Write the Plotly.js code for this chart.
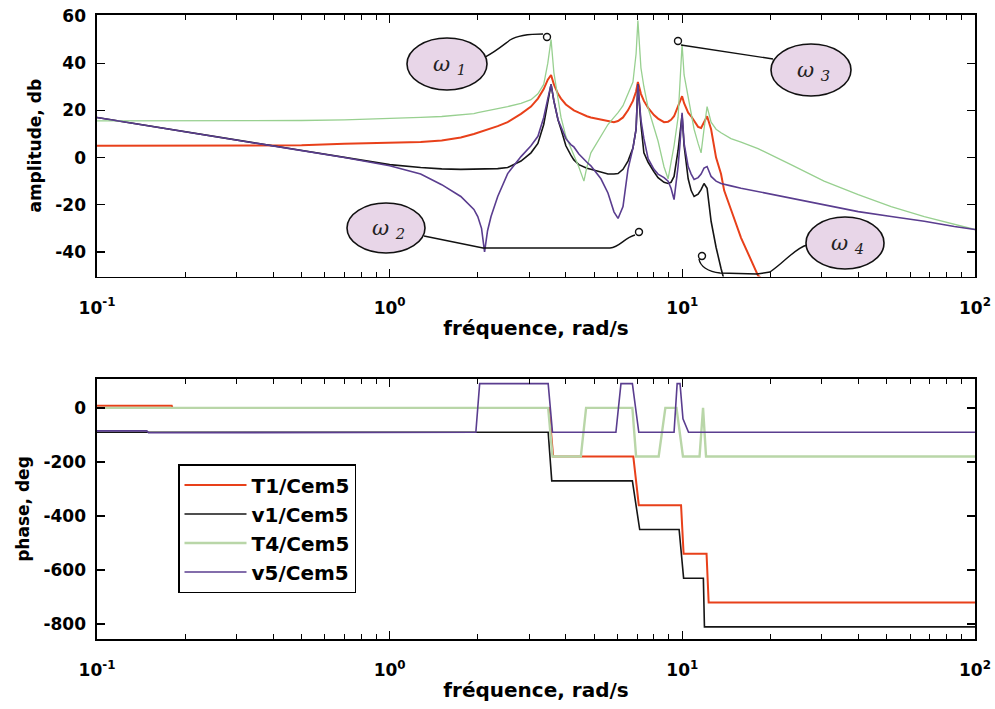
<!DOCTYPE html>
<html>
<head>
<meta charset="utf-8">
<script src="https://cdn.plot.ly/plotly-3.0.1.min.js"></script>
<style>html,body{margin:0;padding:0;background:#fff;}#chart{width:995px;height:709px;}</style>
</head>
<body>
<div id="chart"></div>
<script>
// ---------- DATA ----------
const seriesNames = ['T1/Cem5', 'v1/Cem5', 'T4/Cem5', 'v5/Cem5'];

// amplitude (dB) sampled at these frequencies (rad/s)
const ampFreq = [0.1, 0.2, 0.3, 0.5, 0.7, 1.0, 1.276, 1.506, 1.75, 1.94, 2.0, 2.06, 2.11, 2.16, 2.22, 2.34, 2.53, 2.81, 3.04, 3.21,
  3.36, 3.47, 3.56, 3.64, 3.76, 3.85, 4.0, 4.16, 4.26, 4.43, 4.61, 4.72, 4.87, 5.27, 5.57, 5.84, 6.03, 6.27, 6.52, 6.78,
  6.95, 7.05, 7.22, 7.39, 7.64, 8.0, 8.26, 8.66, 8.94, 9.15, 9.37, 9.67, 9.82, 9.98, 10.14, 10.47, 10.72, 10.97, 11.32, 11.59,
  11.86, 12.15, 12.54, 13.04, 13.56, 13.9, 14.66, 15.87, 18.14, 23.5, 30.5, 39.9, 51.7, 67.1, 85, 100];

const ampT1 = [5, 5, 5, 5.2, 5.8, 6.2, 6.6, 7.2, 8.5, 10, 10.5, 11, 11.4, 11.8, 12.3, 13.3, 15, 18.5, 21.6, 25,
  29, 33, 35, 31, 27, 25, 22.5, 21, 20, 19, 18, 17.5, 17, 16, 15.3, 15, 15.5, 17, 20, 24,
  28, 32, 27, 24, 21, 18, 16.5, 15, 15.2, 16, 17.5, 21.6, 24, 26, 23, 19, 17.5, 15.5, 13, 12.5,
  15, 17.5, 12, 0, -7, -14, -22, -34, -50, -62, -72, -80, -88, -95, -100, -103];

const ampV1 = [17, 11, 7.5, 3, 0.3, -3, -4.2, -4.8, -5, -5, -5, -5, -5, -5, -4.9, -4.7, -4.2, -1.5, 2, 6,
  14, 24, 31, 24, 16, 12, 5, 1, -1, -3, -4, -4.5, -5, -6.3, -7, -7, -6.8, -5, -1.5, 4,
  12, 31, 14, 2, -2, -6, -8.5, -10.5, -11, -10.5, -8, 3, 10, 18, 5, -9, -14, -16.5, -15.5, -13.6,
  -11, -13, -27, -38, -47, -52, -58, -63, -70, -80, -88, -95, -100, -107, -112, -115];

const ampT4 = [15.5, 15.5, 15.5, 15.7, 16, 16.5, 17, 17.4, 18, 18.6, 19, 19.3, 19.6, 19.9, 20.2, 20.8, 21.6, 23, 24.5, 27,
  31, 40, 50, 36, 24, 17, 9, 4, 1, -4, -10, -4, 2, 9, 14, 17, 19, 22, 27, 32,
  44, 58, 38, 30, 21, 13, 7, -4, -9, -2, 5, 17, 30, 48, 35, 26, 18, 12, 6, 2,
  12, 21.6, 15, 12, 10.5, 9.7, 8, 6.5, 3.8, -3, -10, -15.7, -20.8, -25, -28.4, -30.5];

const ampV5 = [17, 11, 7.5, 3, 0, -3.5, -7, -11.5, -16.5, -22, -25, -30, -40, -31, -25, -16.5, -6.8, 0.4, 5, 9,
  17, 25, 31, 24, 16, 13, 8, 5.5, 4.5, 1.5, -1, -2, -3.5, -9, -15, -23, -25.8, -20.8, -5, 4,
  12, 31, 16, 8, -0.5, -5, -7, -8.5, -10, -13, -17.8, -3.8, 6, 19, 6, -3.8, -7, -9.3, -8.5, -7,
  -4.5, -3.8, -8, -10, -11, -11.4, -12, -13, -14.4, -17.4, -19.9, -22.9, -25, -27, -29.2, -30.5];

// phase (deg)
const phT1Freq = [0.1, 0.18, 0.181, 3.5, 3.62, 6.8, 7.1, 9.9, 10.1, 12.1, 12.3, 100];
const phT1     = [8, 8, 0, 0, -180, -180, -360, -360, -540, -540, -720, -720];

const phV1Freq = [0.1, 3.48, 3.58, 6.75, 7.15, 9.75, 10.1, 11.8, 11.9, 100];
const phV1     = [-90, -90, -270, -270, -450, -450, -630, -630, -810, -810];

const phT4Freq = [0.1, 3.48, 3.6, 4.5, 4.69, 6.75, 6.95, 8.3, 8.75, 9.55, 10.05, 11.45, 11.77, 12.05, 100];
const phT4     = [0, 0, -180, -180, 0, 0, -180, -180, 0, 0, -180, -180, 0, -180, -180];

const phV5Freq = [0.1, 0.148, 0.15, 1.97, 2.03, 3.48, 3.6, 5.93, 6.17, 6.75, 7.1, 9.37, 9.6, 9.82, 10.05, 10.5, 100];
const phV5     = [-85, -85, -92, -90, 90, 90, -90, -90, 90, 90, -90, -90, 90, 90, -40, -90, -90];

// axis tick labels
const xTickVals = [0.1, 1, 10, 100];
const xTickText = ['10<sup>-1</sup>', '10<sup>0</sup>', '10<sup>1</sup>', '10<sup>2</sup>'];
const ampTickVals = [-40, -20, 0, 20, 40, 60];
const ampTickText = ['-40', '-20', '0', '20', '40', '60'];
const phTickVals = [-800, -600, -400, -200, 0];
const phTickText = ['-800', '-600', '-400', '-200', '0'];

// ---------- STYLE ----------
const ampColors = ['#e8401a', '#151515', '#98d090', '#5a3d8f'];
const phColors  = ['#e8401a', '#151515', '#b9d6a8', '#5a3d8f'];
const ampWidths = [2, 1.6, 1.3, 1.6];
const phWidths  = [2, 1.6, 2.4, 1.6];
const FONT = 'DejaVu Sans, Arial, sans-serif';

const minorVals = [];
for (let d = -1; d < 2; d++) for (let k = 2; k <= 9; k++) minorVals.push(k * Math.pow(10, d));

const ampY = [ampT1, ampV1, ampT4, ampV5];
const phX = [phT1Freq, phV1Freq, phT4Freq, phV5Freq];
const phY = [phT1, phV1, phT4, phV5];

const traces = [];
for (let i = 0; i < 4; i++) {
  traces.push({x: ampFreq, y: ampY[i], xaxis: 'x', yaxis: 'y', type: 'scatter', mode: 'lines',
    name: seriesNames[i], showlegend: false, line: {color: ampColors[i], width: ampWidths[i]}});
}
for (let i = 0; i < 4; i++) {
  traces.push({x: phX[i], y: phY[i], xaxis: 'x2', yaxis: 'y2', type: 'scatter', mode: 'lines',
    name: seriesNames[i], showlegend: true, line: {color: phColors[i], width: phWidths[i]}});
}

// pixel -> paper helpers (plot area 97..975 x 15..639)
const L = 97, R = 975, T = 15, B = 639;
const px = v => (v - L) / (R - L);
const py = v => 1 - (v - T) / (B - T);
function path(cmds) {
  return cmds.map(c => c[0] + ' ' + c.slice(1).map((v, j) => (j % 2 === 0 ? px(v) : py(v)).toFixed(5)).join(',')).join(' ');
}

function xAxis(anchor) {
  return {type: 'log', range: [-1, 2], anchor: anchor, tickmode: 'array', tickvals: xTickVals, ticktext: xTickText,
    ticks: 'inside', ticklen: 8, tickwidth: 1.3, tickcolor: '#000', mirror: 'allticks', showline: true, linecolor: '#000',
    linewidth: 1.6, showgrid: false, zeroline: false, ticklabelstandoff: 15,
    tickfont: {family: FONT, size: 17, color: '#000', weight: 'bold'},
    minor: {tickmode: 'array', tickvals: minorVals, ticks: 'inside', ticklen: 5, tickwidth: 1, tickcolor: '#000', showgrid: false},
    title: {text: 'fréquence, rad/s', font: {family: FONT, size: 20, color: '#000', weight: 'bold'}, standoff: 4}};
}
function yAxis(anchor, range, domain, vals, text, title) {
  return {range: range, domain: domain, anchor: anchor, tickmode: 'array', tickvals: vals, ticktext: text,
    ticks: 'inside', ticklen: 8, tickwidth: 1.3, tickcolor: '#000', mirror: 'allticks', showline: true, linecolor: '#000',
    linewidth: 1.6, showgrid: false, zeroline: false, ticklabelstandoff: 6,
    tickfont: {family: FONT, size: 17, color: '#000', weight: 'bold'},
    title: {text: title, font: {family: FONT, size: 17, color: '#000', weight: 'bold'}, standoff: 9}};
}

const ellipses = [
  {cx: 447, cy: 64, rx: 40, ry: 26, label: '1'},
  {cx: 386, cy: 228, rx: 39, ry: 25, label: '2'},
  {cx: 811, cy: 70, rx: 40, ry: 26, label: '3'},
  {cx: 845, cy: 243, rx: 39, ry: 26, label: '4'}
];
const shapes = [];
const annotations = [];
const lineStyle = {color: '#111', width: 1.4};
// connectors
shapes.push({type: 'path', xref: 'paper', yref: 'paper', line: lineStyle,
  path: path([['M', 485, 57], ['C', 495, 52, 502, 46, 510, 40], ['C', 518, 35, 530, 34, 543, 34]])});
shapes.push({type: 'path', xref: 'paper', yref: 'paper', line: lineStyle,
  path: path([['M', 424, 236], ['L', 483, 248], ['L', 610, 248], ['C', 620, 247, 624, 238, 635, 235]])});
shapes.push({type: 'path', xref: 'paper', yref: 'paper', line: lineStyle,
  path: path([['M', 773, 59], ['L', 681, 45]])});
shapes.push({type: 'path', xref: 'paper', yref: 'paper', line: lineStyle,
  path: path([['M', 807, 245], ['C', 795, 248, 785, 262, 770, 272], ['L', 757, 274]])});
shapes.push({type: 'path', xref: 'paper', yref: 'paper', line: lineStyle,
  path: path([['M', 757, 274], ['L', 720, 273], ['C', 708, 272, 700, 266, 699, 259]])});
// small loops
[[547, 37], [639, 232], [678, 41], [702, 256]].forEach(p => {
  shapes.push({type: 'circle', xref: 'paper', yref: 'paper', line: lineStyle, fillcolor: 'rgba(0,0,0,0)',
    x0: px(p[0] - 3.5), x1: px(p[0] + 3.5), y0: py(p[1] + 3.5), y1: py(p[1] - 3.5)});
});
ellipses.forEach(e => {
  shapes.push({type: 'circle', xref: 'paper', yref: 'paper', line: {color: '#111', width: 1.6}, fillcolor: '#e8d6e8',
    x0: px(e.cx - e.rx), x1: px(e.cx + e.rx), y0: py(e.cy + e.ry), y1: py(e.cy - e.ry)});
  annotations.push({xref: 'paper', yref: 'paper', x: px(e.cx + 2), y: py(e.cy + 1), xanchor: 'center', yanchor: 'middle',
    showarrow: false, text: 'ω <sub>' + e.label + '</sub>',
    font: {family: 'DejaVu Serif, serif', size: 21, color: '#222', style: 'italic'}});
});

const layout = {
  width: 995, height: 709,
  margin: {l: L, r: 995 - R, t: T, b: 709 - B},
  paper_bgcolor: '#fff', plot_bgcolor: '#fff',
  font: {family: FONT, color: '#000'},
  xaxis: xAxis('y'),
  xaxis2: xAxis('y2'),
  yaxis: yAxis('x', [-50.4, 60.4], [py(276.5), 1], ampTickVals, ampTickText, 'amplitude, db'),
  yaxis2: yAxis('x2', [-855, 107], [0, py(379)], phTickVals, phTickText, 'phase, deg'),
  showlegend: true,
  legend: {x: px(178), y: py(464), xanchor: 'left', yanchor: 'top', bgcolor: '#fff', bordercolor: '#000', borderwidth: 1.5,
    font: {family: FONT, size: 20, color: '#000', weight: 'bold'}, tracegroupgap: 0, itemwidth: 62},
  shapes: shapes,
  annotations: annotations
};

Plotly.newPlot('chart', traces, layout, {staticPlot: true, displayModeBar: false});
</script>
</body>
</html>
